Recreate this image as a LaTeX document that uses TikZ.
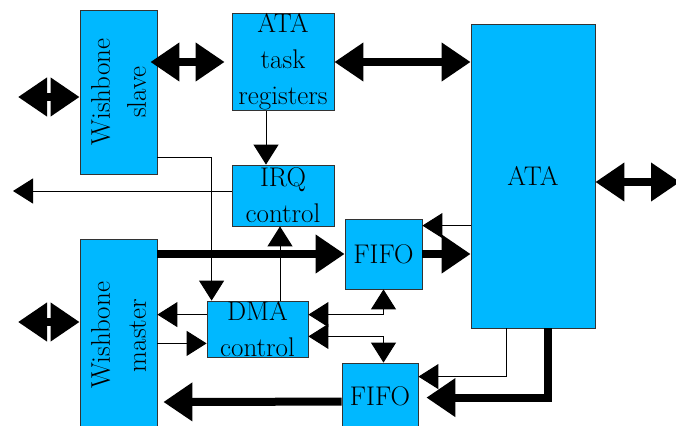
\documentclass[tikz,border=0pt]{standalone}
\usepackage{fontspec}
\usetikzlibrary{positioning,arrows.meta,calc}
\definecolor{ataBlue}{RGB}{0,184,255}

\begin{document}
\begin{tikzpicture}[
  x=1pt,y=-1pt,
  font=\rmfamily\fontsize{27}{36}\selectfont,
  blk/.style={rectangle,draw=black!80,line width=0.8pt,fill=ataBlue,
              inner sep=0pt,align=center},
  big/.style={-{Triangle[length=29pt,width=37pt]},line width=8pt},
  bigdbl/.style={{Triangle[length=29pt,width=37pt]}-{Triangle[length=29pt,width=37pt]},line width=8pt},
  thin/.style={-{Triangle[length=20pt,width=25pt]},line width=1pt},
  thindbl/.style={{Triangle[length=20pt,width=25pt]}-{Triangle[length=20pt,width=25pt]},line width=1pt},
]
\useasboundingbox (0,0) rectangle (676,425);
\clip (0,0) rectangle (676,425);

% blocks
\node[blk,minimum width=77pt,minimum height=164pt] (wbs) at (118.5,92) {};
\node[rotate=90,align=center] (wbslbl) at (wbs.center) {Wishbone\\slave};
\node[blk,minimum width=102pt,minimum height=97pt] (regs) at (283,62) {ATA\\task\\registers};
\node[blk,minimum width=102pt,minimum height=61pt] (irq) at (283,195.5) {IRQ\\control};
\node[blk,minimum width=124pt,minimum height=304pt] (ata) at (533,176) {ATA};
\node[blk,minimum width=77pt,minimum height=70pt] (wfifo) at (383.5,254) {FIFO};
\node[blk,minimum width=101pt,minimum height=56pt] (dma) at (257.5,329) {DMA\\control};
\node[blk,minimum width=76pt,minimum height=66pt] (rfifo) at (380,396) {FIFO};
\node[blk,minimum width=77pt,minimum height=193pt] (wbm) at (118.5,335.5) {};
\node[rotate=90,align=center] (wbmlbl) at (wbm.center) {Wishbone\\master};

% outside connections
\coordinate (slvbus) at (18,97);
\coordinate (mstbus) at (18,322);
\coordinate (irqout) at (13,191);
\coordinate (atabus) at (680,182);
\draw[bigdbl] (slvbus) -- (wbs.west |- slvbus);
\draw[bigdbl] (mstbus) -- (wbm.west |- mstbus);
\draw[bigdbl] (ata.east |- atabus) -- (atabus);
\draw[thin] (irq.west |- irqout) -- (irqout);

% register path
\draw[bigdbl,shorten <=-7pt,shorten >=7pt] (wbs.east |- regs.west) -- (regs.west);
\draw[bigdbl] (regs.east) -- (ata.west |- regs.east);
\draw[thin] ($(regs.south)+(-17,0)$) -- ($(irq.north)+(-17,0)$);
\draw[thin] ($(wbs.south east)+(0,-17)$) -| ($(dma.north west)+(5,0)$);

% write data path
\draw[big] (wbm.east |- wfifo.west) -- (wfifo.west);
\draw[big] (wfifo.east) -- (ata.west |- wfifo.east);
\coordinate (wfack) at ($(wfifo.north east)+(0,7)$);
\draw[thin] (ata.west |- wfack) -- (wfack);

% dma handshakes
\draw[thin] ($(dma.north)+(22.5,0)$) coordinate (dmairq) -- (dmairq |- irq.south);
\coordinate (dmareq) at ($(dma.north west)+(0,14)$);
\coordinate (dmaack) at ($(dma.south west)+(0,-14)$);
\draw[thin] (dmareq) -- (wbm.east |- dmareq);
\draw[thin] (wbm.east |- dmaack) -- (dmaack);
\draw[thindbl] (dma.east |- dmareq) -| (wfifo.south);
\draw[thindbl] ($(dma.south east)+(0,-21)$) -| (wfifo.south |- rfifo.north);

% read data path
\draw[thin] ($(ata.south west)+(36,0)$) |- ($(rfifo.north east)+(0,14)$);
\draw[big,shorten >=8pt] ($(ata.south west)+(77,0)$) |- ($(rfifo.north east)+(0,35)$);
\draw[big,shorten >=6pt] ($(rfifo.north west)+(0,39)$) -- (wbm.east |- 0,402);
\end{tikzpicture}
\end{document}
